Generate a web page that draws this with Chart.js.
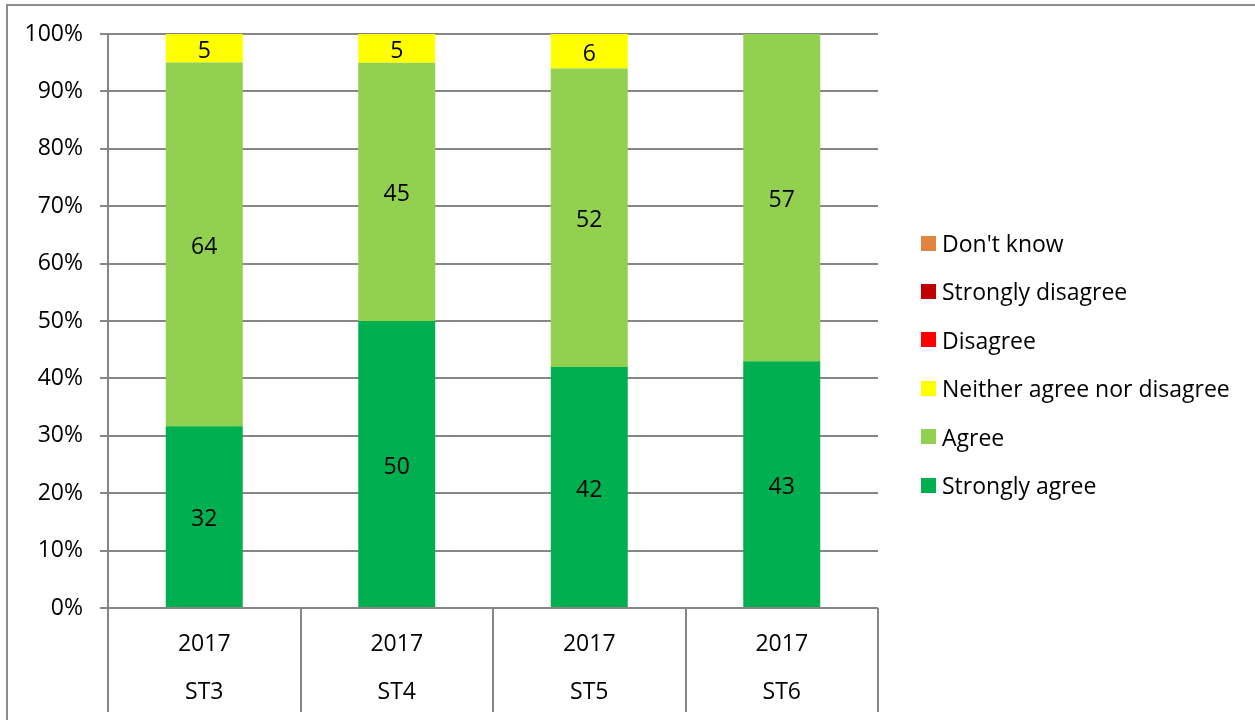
<!DOCTYPE html>
<html>
<head>
<meta charset="utf-8">
<script src="https://cdn.jsdelivr.net/npm/chart.js@4.4.1/dist/chart.umd.min.js"></script>
<style>
html,body{margin:0;padding:0;background:#fff;}
#wrap{position:relative;width:1255px;height:720px;overflow:hidden;}
#frame{position:absolute;left:6px;top:4px;width:1400px;height:900px;border-left:2px solid #8c8c8c;border-top:2px solid #8c8c8c;}
#chart{position:absolute;left:0;top:0;}
#legend{position:absolute;left:0;top:0;font-family:"Open Sans",sans-serif;font-size:23px;color:#000;}
.lg-item{position:absolute;white-space:nowrap;display:flex;align-items:center;height:30px;}
.lg-box{width:15px;height:15px;margin-right:6px;flex:none;}
</style>
</head>
<body>
<div id="wrap">
  <div id="frame"></div>
  <canvas id="chart" width="1255" height="720"></canvas>
  <div id="legend"></div>
</div>
<script>
// ---- data ----
const years = ['2017', '2017', '2017', '2017'];
const groups = ['ST3', 'ST4', 'ST5', 'ST6'];
const seriesNames = ['Strongly agree', 'Agree', 'Neither agree nor disagree', 'Disagree', 'Strongly disagree', "Don't know"];
const stronglyAgree = [32, 50, 42, 43];
const agree = [64, 45, 52, 57];
const neither = [5, 5, 6, 0];
const disagree = [0, 0, 0, 0];
const stronglyDisagree = [0, 0, 0, 0];
const dontKnow = [0, 0, 0, 0];
const yTickStep = 10;

// ---- styles ----
const seriesColors = ['#00B050', '#92D050', '#FFFF00', '#FF0000', '#C00000', '#E0843F'];
const FONT = '"Open Sans", sans-serif';
const FSIZE = 23;
const GRID = '#868686';

const rawSeries = [stronglyAgree, agree, neither, disagree, stronglyDisagree, dontKnow];
const totals = groups.map((_, j) => rawSeries.reduce((s, arr) => s + arr[j], 0));
const labels = groups.map((g, j) => [years[j], g]);

const datasets = rawSeries.map((arr, i) => ({
  label: seriesNames[i],
  data: arr.map((v, j) => v / totals[j] * 100),
  raw: arr,
  backgroundColor: seriesColors[i],
  borderWidth: 0,
  categoryPercentage: 1.0,
  barPercentage: 0.4
}));

const valueLabels = {
  id: 'valueLabels',
  afterDatasetsDraw(chart) {
    const ctx = chart.ctx;
    ctx.save();
    ctx.font = FSIZE + 'px ' + FONT;
    ctx.fillStyle = '#000';
    ctx.textAlign = 'center';
    ctx.textBaseline = 'middle';
    chart.data.datasets.forEach((ds, i) => {
      const meta = chart.getDatasetMeta(i);
      meta.data.forEach((bar, j) => {
        const v = ds.raw[j];
        if (!v) return;
        const p = bar.getProps(['x', 'y', 'base'], true);
        ctx.fillText(String(v), p.x, (p.y + p.base) / 2 + 3);
      });
    });
    ctx.restore();
  }
};

const separators = {
  id: 'separators',
  afterDraw(chart) {
    const xs = chart.scales.x;
    const n = chart.data.labels.length;
    const half = (xs.getPixelForValue(1) - xs.getPixelForValue(0)) / 2;
    const ctx = chart.ctx;
    ctx.save();
    ctx.strokeStyle = GRID;
    ctx.lineWidth = 2;
    for (let i = 0; i <= n; i++) {
      const px = Math.round(xs.getPixelForValue(Math.min(i, n - 1)) + (i < n ? -half : half));
      ctx.beginPath();
      ctx.moveTo(px, chart.chartArea.bottom);
      ctx.lineTo(px, 712);
      ctx.stroke();
    }
    ctx.restore();
  }
};

new Chart(document.getElementById('chart'), {
  type: 'bar',
  data: { labels, datasets },
  options: {
    responsive: false,
    animation: false,
    devicePixelRatio: 1,
    layout: { padding: { left: 0, right: 377, top: 34, bottom: 0 } },
    plugins: { legend: { display: false }, tooltip: { enabled: false } },
    scales: {
      x: {
        stacked: true,
        grid: { display: false },
        border: { display: false },
        ticks: {
          color: '#000', padding: 4, maxRotation: 0, autoSkip: false,
          font: { family: FONT, size: FSIZE, lineHeight: 48 / FSIZE }
        },
        afterFit(s) { s.height = 112; }
      },
      y: {
        stacked: true, min: 0, max: 100,
        ticks: {
          stepSize: yTickStep, color: '#000', padding: 17,
          font: { family: FONT, size: FSIZE },
          callback: v => v + '%'
        },
        grid: { color: GRID, lineWidth: 2, tickLength: 8 },
        border: { color: GRID, width: 2 },
        afterFit(s) { s.width = 108; }
      }
    }
  },
  plugins: [valueLabels, separators]
});

// ---- legend (reverse order) ----
const lg = document.getElementById('legend');
const order = seriesNames.map((_, i) => i).reverse();
order.forEach((i, k) => {
  const it = document.createElement('div');
  it.className = 'lg-item';
  it.style.left = '921px';
  it.style.top = (243 + k * 48.4 - 15) + 'px';
  const b = document.createElement('span');
  b.className = 'lg-box';
  b.style.background = seriesColors[i];
  const t = document.createElement('span');
  t.textContent = seriesNames[i];
  it.appendChild(b); it.appendChild(t);
  lg.appendChild(it);
});
</script>
</body>
</html>
